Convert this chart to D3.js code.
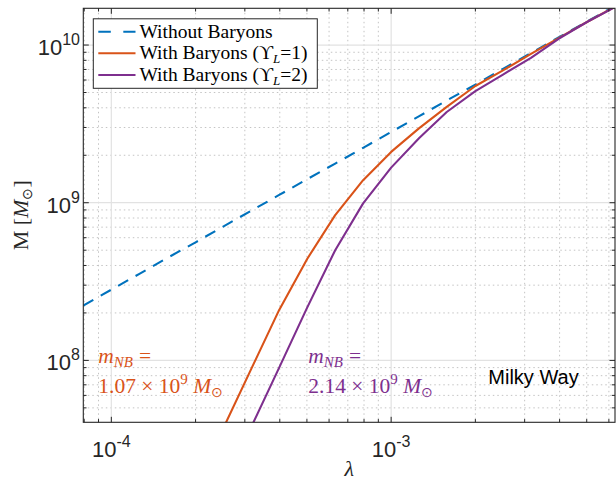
<!DOCTYPE html>
<html>
<head>
<meta charset="utf-8">
<script src="https://cdn.jsdelivr.net/npm/d3@7"></script>
<style>
  html, body { margin: 0; padding: 0; background: #fff; }
  svg { display: block; }
</style>
</head>
<body>
<svg id="chart" width="616" height="481"></svg>
<script>
// ---- data ----
const lambda = [7.94e-5, 1.00e-4, 1.26e-4, 1.58e-4, 2.00e-4, 2.51e-4, 3.16e-4, 3.98e-4, 5.01e-4, 6.31e-4,
                7.94e-4, 1.00e-3, 1.26e-3, 1.58e-3, 2.00e-3, 2.51e-3, 3.16e-3, 3.98e-3, 5.01e-3, 6.31e-3];
const massNoBaryons = [2.23e8, 2.81e8, 3.54e8, 4.45e8, 5.61e8, 7.06e8, 8.89e8, 1.12e9, 1.41e9, 1.77e9,
                       2.23e9, 2.81e9, 3.54e9, 4.45e9, 5.61e9, 7.06e9, 8.89e9, 1.12e10, 1.41e10, 1.77e10];
const massBaryons1 = [null, null, null, null, null, 3.7e7, 8.8e7, 2.09e8, 4.4e8, 8.35e8,
                      1.39e9, 2.10e9, 2.97e9, 4.05e9, 5.5e9, 6.9e9, 8.8e9, 1.11e10, 1.40e10, 1.75e10];
const massBaryons2 = [null, null, null, null, null, null, 3.77e7, 9.0e7, 2.16e8, 5.0e8,
                      9.9e8, 1.67e9, 2.57e9, 3.76e9, 5.1e9, 6.5e9, 8.3e9, 1.10e10, 1.40e10, 1.74e10];
const seriesNames = ["Without Baryons", "With Baryons (ϒ_L=1)", "With Baryons (ϒ_L=2)"];
const xLimits = [7.94e-5, 6.31e-3];
const yLimits = [4.05e7, 1.71e10];
const xMajorTicks = [1e-4, 1e-3];
const xTickExponents = ["-4", "-3"];
const yMajorTicks = [1e8, 1e9, 1e10];
const yTickExponents = ["8", "9", "10"];
const annotationMass = ["1.07", "2.14"];

// ---- layout ----
const L = 83.3, R = 615, T = 8.3, B = 422.3;
const colors = ["#0072BD", "#D95319", "#7E2F8E"];
const svg = d3.select("#chart");
const x = d3.scaleLog().domain(xLimits).range([L, R]);
const y = d3.scaleLog().domain(yLimits).range([B, T]);

function minors(lim) {
  const out = [];
  const lo = Math.floor(Math.log10(lim[0])), hi = Math.ceil(Math.log10(lim[1]));
  for (let e = lo; e <= hi; e++) for (let m = 2; m <= 9; m++) {
    const v = m * Math.pow(10, e);
    if (v >= lim[0] && v <= lim[1]) out.push(v);
  }
  return out;
}
const xMinor = minors(xLimits), yMinor = minors(yLimits);

const grid = svg.append("g");
grid.selectAll(".xmg").data(xMinor).join("line")
  .attr("x1", d => x(d)).attr("x2", d => x(d)).attr("y1", T).attr("y2", B)
  .attr("stroke", "#c4c4c4").attr("stroke-width", 1).attr("stroke-dasharray", "1.5,3");
grid.selectAll(".ymg").data(yMinor).join("line")
  .attr("y1", d => y(d)).attr("y2", d => y(d)).attr("x1", L).attr("x2", R)
  .attr("stroke", "#c4c4c4").attr("stroke-width", 1).attr("stroke-dasharray", "1.5,3");
grid.selectAll(".xMg").data(xMajorTicks).join("line")
  .attr("x1", d => x(d)).attr("x2", d => x(d)).attr("y1", T).attr("y2", B)
  .attr("stroke", "#e2e2e2").attr("stroke-width", 1.2);
grid.selectAll(".yMg").data(yMajorTicks).join("line")
  .attr("y1", d => y(d)).attr("y2", d => y(d)).attr("x1", L).attr("x2", R)
  .attr("stroke", "#e2e2e2").attr("stroke-width", 1.2);

svg.append("clipPath").attr("id", "clip").append("rect")
  .attr("x", L).attr("y", T).attr("width", R - L).attr("height", B - T);

const line = d3.line()
  .defined(d => d[1] != null)
  .x(d => x(d[0])).y(d => y(d[1]));

const plot = svg.append("g").attr("clip-path", "url(#clip)");
const seriesData = [massNoBaryons, massBaryons1, massBaryons2];
seriesData.forEach((vals, i) => {
  plot.append("path")
    .datum(lambda.map((l, k) => [l, vals[k]]))
    .attr("d", line)
    .attr("fill", "none")
    .attr("stroke", colors[i])
    .attr("stroke-width", 2.1)
    .attr("stroke-linejoin", "round")
    .attr("stroke-dasharray", i === 0 ? "11.5,8.5" : null);
});

const axisColor = "#262626";
const axes = svg.append("g");
const majLen = 5.5, minLen = 3.2;
[[B, -1], [T, 1]].forEach(([yy, dir]) => {
  axes.selectAll(null).data(xMajorTicks).join("line")
    .attr("x1", d => x(d)).attr("x2", d => x(d)).attr("y1", yy).attr("y2", yy + dir * majLen)
    .attr("stroke", axisColor).attr("stroke-width", 1);
  axes.selectAll(null).data(xMinor).join("line")
    .attr("x1", d => x(d)).attr("x2", d => x(d)).attr("y1", yy).attr("y2", yy + dir * minLen)
    .attr("stroke", axisColor).attr("stroke-width", 1);
});
[[L, 1], [R, -1]].forEach(([xx, dir]) => {
  axes.selectAll(null).data(yMajorTicks).join("line")
    .attr("y1", d => y(d)).attr("y2", d => y(d)).attr("x1", xx).attr("x2", xx + dir * majLen)
    .attr("stroke", axisColor).attr("stroke-width", 1);
  axes.selectAll(null).data(yMinor).join("line")
    .attr("y1", d => y(d)).attr("y2", d => y(d)).attr("x1", xx).attr("x2", xx + dir * minLen)
    .attr("stroke", axisColor).attr("stroke-width", 1);
});
axes.append("rect").attr("x", L).attr("y", T).attr("width", R - L).attr("height", B - T)
  .attr("fill", "none").attr("stroke", axisColor).attr("stroke-width", 1.1);

const sans = "'Liberation Sans', Arial, Helvetica, sans-serif";
const serif = "'Liberation Serif', 'Times New Roman', serif";
const tickFs = 22, expFs = 16;
xMajorTicks.forEach((v, i) => {
  const t = svg.append("text").attr("x", x(v)).attr("y", 457)
    .attr("text-anchor", "middle").attr("font-family", sans).attr("font-size", tickFs).attr("fill", "#262626");
  t.append("tspan").text("10");
  t.append("tspan").attr("dy", -10).attr("font-size", expFs).text(xTickExponents[i]);
});
yMajorTicks.forEach((v, i) => {
  const t = svg.append("text").attr("x", 80).attr("y", y(v) + 10)
    .attr("text-anchor", "end").attr("font-family", sans).attr("font-size", tickFs).attr("fill", "#262626");
  t.append("tspan").text("10");
  t.append("tspan").attr("dy", -10).attr("font-size", expFs).text(yTickExponents[i]);
});

svg.append("text").attr("x", (L + R) / 2).attr("y", 476).attr("text-anchor", "middle")
  .attr("font-family", serif).attr("font-style", "italic").attr("font-size", 22).attr("fill", "#262626")
  .text("λ");
const yl = svg.append("text").attr("transform", "translate(28," + ((T + B) / 2) + ") rotate(-90)")
  .attr("text-anchor", "middle").attr("font-family", serif).attr("font-size", 22).attr("fill", "#262626");
yl.append("tspan").text("M [");
yl.append("tspan").attr("font-style", "italic").text("M");
yl.append("tspan").attr("dy", 4).attr("font-size", 14).text("⊙");
yl.append("tspan").attr("dy", -4).text("]");

const lg = svg.append("g");
lg.append("rect").attr("x", 93.3).attr("y", 18.8).attr("width", 224).attr("height", 69.5)
  .attr("fill", "#fff").attr("stroke", axisColor).attr("stroke-width", 1);
const rowsY = [31.7, 53.3, 75];
seriesNames.forEach((name, i) => {
  lg.append("line").attr("x1", 98.3).attr("x2", 135.5).attr("y1", rowsY[i]).attr("y2", rowsY[i])
    .attr("stroke", colors[i]).attr("stroke-width", 2.1)
    .attr("stroke-dasharray", i === 0 ? "12.5,12.5" : null);
  const t = lg.append("text").attr("x", 139.5).attr("y", rowsY[i] + 6)
    .attr("font-family", serif).attr("font-size", 19.5).attr("fill", "#000");
  if (name.indexOf("_") < 0) {
    t.text(name);
  } else {
    const m = name.match(/^(.*ϒ)_(\w)(.*)$/);
    t.append("tspan").text(m[1]);
    t.append("tspan").attr("dy", 4).attr("font-size", 13).attr("font-style", "italic").text(m[2]);
    t.append("tspan").attr("dy", -4).text(m[3]);
  }
});

const annX = [98.3, 308.3];
annotationMass.forEach((mv, i) => {
  const c = colors[i + 1];
  const a1 = svg.append("text").attr("x", annX[i]).attr("y", 363)
    .attr("font-family", serif).attr("font-size", 21.5).attr("fill", c);
  a1.append("tspan").attr("font-style", "italic").text("m");
  a1.append("tspan").attr("dy", 4).attr("font-size", 15).attr("font-style", "italic").text("NB");
  a1.append("tspan").attr("dy", -4).attr("dx", 6).text("=");
  const a2 = svg.append("text").attr("x", annX[i]).attr("y", 393)
    .attr("font-family", serif).attr("font-size", 21.5).attr("fill", c);
  a2.append("tspan").text(mv + " × 10");
  a2.append("tspan").attr("dy", -9).attr("font-size", 15).text("9");
  a2.append("tspan").attr("dy", 9).attr("font-style", "italic").text("  M");
  a2.append("tspan").attr("dy", 4).attr("font-size", 14).text("⊙");
});

svg.append("text").attr("x", 488.3).attr("y", 384.3)
  .attr("font-family", sans).attr("font-size", 20).attr("fill", "#000").text("Milky Way");
</script>
</body>
</html>
